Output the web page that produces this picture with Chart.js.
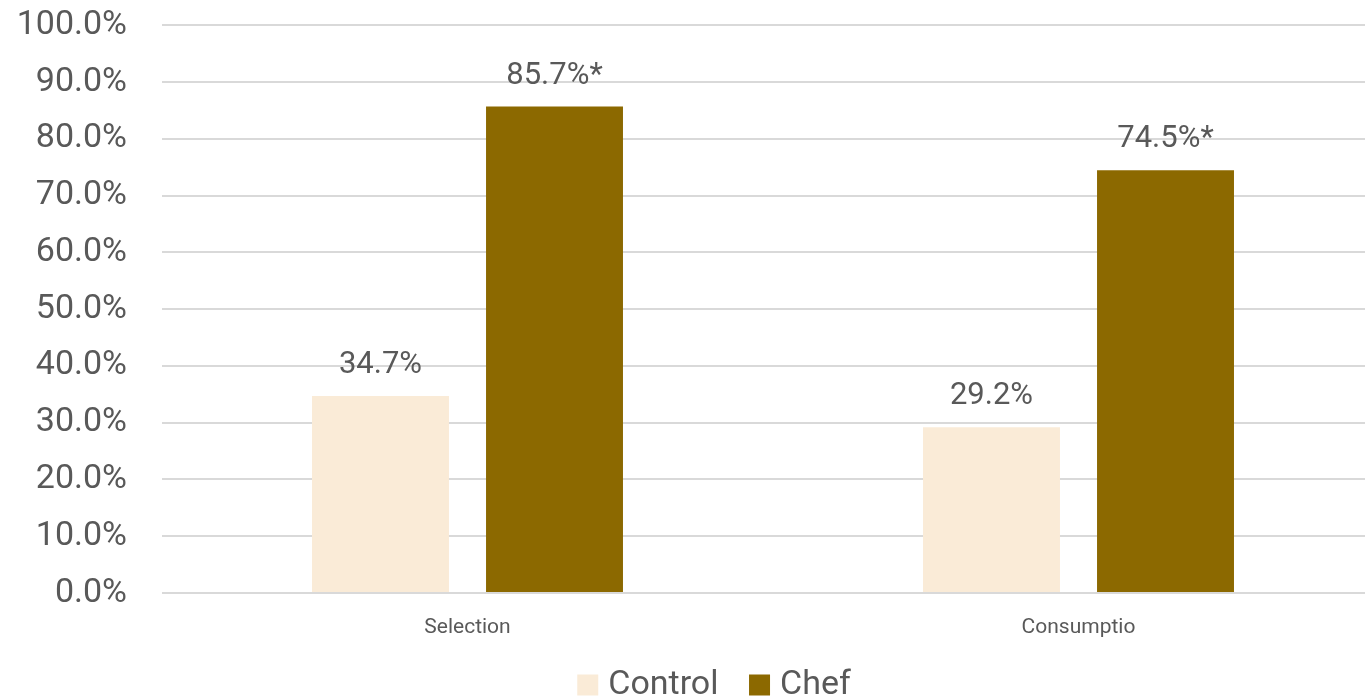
<!DOCTYPE html>
<html>
<head>
<meta charset="utf-8">
<script src="https://cdn.jsdelivr.net/npm/chart.js@4.4.1/dist/chart.umd.min.js"></script>
<style>
  html, body { margin: 0; padding: 0; background: #ffffff; overflow: hidden; }
  #wrap { position: absolute; left: 0; top: -30px; width: 1435px; height: 742px; }
</style>
</head>
<body>
<div id="wrap"><canvas id="chart"></canvas></div>
<script>
// Share of participants, by measure
const categories = ['Selection', 'Consumptio'];
const seriesNames = ['Control', 'Chef'];
const controlValues = [34.7, 29.2];
const chefValues = [85.7, 74.5];
// significance markers appended to the value labels
const controlMarks = ['', ''];
const chefMarks = ['*', '*'];

const TEXT = '#595959';
const FONT = 'Roboto, "Liberation Sans", sans-serif';

// Writes each bar's value above it
const valueLabels = {
  id: 'valueLabels',
  afterDatasetsDraw(chart) {
    const ctx = chart.ctx;
    ctx.save();
    ctx.font = '31px ' + FONT;
    ctx.fillStyle = TEXT;
    ctx.textAlign = 'center';
    ctx.textBaseline = 'alphabetic';
    chart.data.datasets.forEach((ds, i) => {
      const meta = chart.getDatasetMeta(i);
      meta.data.forEach((bar, j) => {
        const txt = ds.data[j].toFixed(1) + '%' + ds.marks[j];
        ctx.fillText(txt, bar.x, bar.y - 23);
      });
    });
    ctx.restore();
  }
};

// The category axis is kept short so the legend sits close under it;
// let its labels spill below the axis box instead of being clipped.
const roomyCategoryLabels = {
  id: 'roomyCategoryLabels',
  afterLayout(chart) {
    const x = chart.scales.x;
    x.bottom = x.top + 60;
  }
};

new Chart(document.getElementById('chart'), {
  type: 'bar',
  data: {
    labels: categories,
    datasets: [
      { label: seriesNames[0], data: controlValues, marks: controlMarks,
        backgroundColor: '#FAEBD7', borderWidth: 0 },
      { label: seriesNames[1], data: chefValues, marks: chefMarks,
        backgroundColor: '#8C6900', borderWidth: 0 }
    ]
  },
  options: {
    responsive: true,
    maintainAspectRatio: false,
    animation: false,
    categoryPercentage: 0.5696,
    barPercentage: 0.787,
    layout: { padding: 0 },
    plugins: {
      tooltip: { enabled: false },
      legend: {
        position: 'bottom',
        labels: {
          font: { size: 34, family: FONT },
          color: TEXT,
          usePointStyle: true,
          pointStyle: 'rect',
          boxWidth: 7,
          boxHeight: 21,
          padding: 37.5
        }
      }
    },
    scales: {
      x: {
        grid: { display: false },
        border: { display: false },
        ticks: { font: { size: 21, family: FONT }, color: TEXT, padding: 14 },
        afterFit(scale) { scale.height = 37.5; }
      },
      y: {
        min: 0,
        max: 100,
        ticks: {
          stepSize: 10,
          font: { size: 34, family: FONT },
          color: TEXT,
          padding: 35,
          callback: v => v.toFixed(1) + '%'
        },
        grid: { color: '#D9D9D9', lineWidth: 2, drawTicks: false },
        border: { display: false },
        afterFit(scale) { scale.width = 162; }
      },
      spare: {
        position: 'right',
        display: true,
        grid: { display: false },
        border: { display: false },
        ticks: { display: false },
        afterFit(scale) { scale.width = 51; }
      }
    }
  },
  plugins: [valueLabels, roomyCategoryLabels]
});
</script>
</body>
</html>
